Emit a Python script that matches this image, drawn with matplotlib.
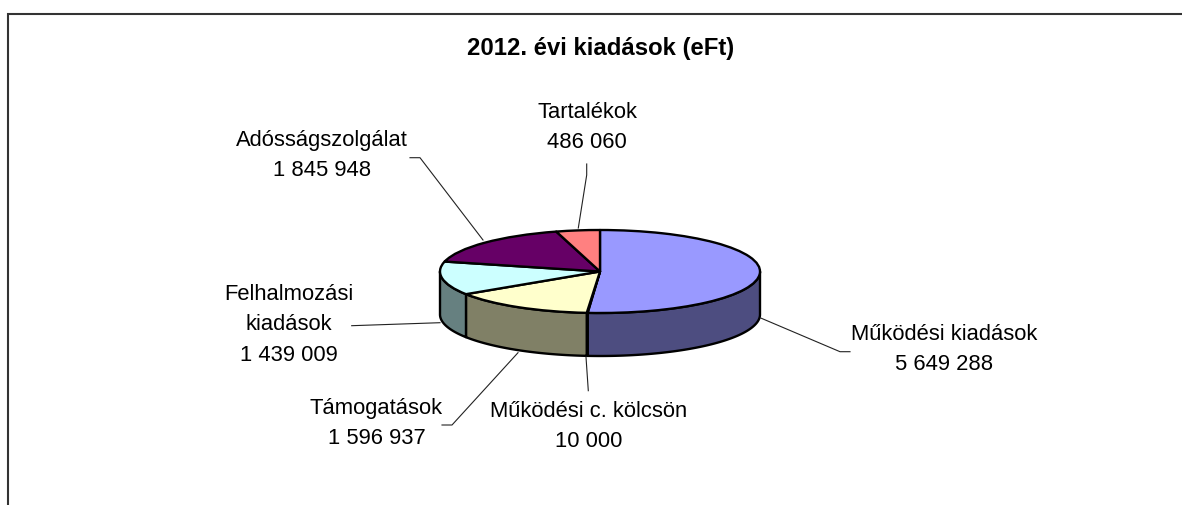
import numpy as np
import matplotlib
matplotlib.use("Agg")
import matplotlib.pyplot as plt

plt.rcParams['font.family'] = ['Liberation Sans', 'DejaVu Sans']

title = "2012. évi kiadások (eFt)"
categories = ["Működési kiadások", "Működési c. kölcsön", "Támogatások",
              "Felhalmozási\nkiadások", "Adósságszolgálat", "Tartalékok"]
values = [5649288, 10000, 1596937, 1439009, 1845948, 486060]
top_colors = ["#9999FF", "#993366", "#FFFFCC", "#CCFFFF", "#660066", "#FF8080"]
side_colors = ["#4D4D80", "#4D1A33", "#808066", "#668080", "#330033", "#804040"]

W, H = 1182, 505
CX, CY, RX, RY, DEPTH = 600, 271.5, 160, 41.5, 43

label_pos = [(944, 349.5), (589, 426.5), (376.5, 423.5), (289, 325), (322, 155.5), (587, 127.5)]
leaders = [
    [(850, 351.7), (840, 351.7), (760.7, 318)],
    [(588.3, 390.7), (586, 357)],
    [(442, 425), (452, 425), (518, 352.7)],
    [(351.7, 325.7), (440, 322.7)],
    [(410, 157.7), (420, 157.7), (483, 240)],
    [(586.7, 164), (586.7, 175), (578.3, 228)],
]

fig = plt.figure(figsize=(W / 100, H / 100), dpi=100, facecolor="white")

# Pie axes: one data unit = RX px horizontally and RY px vertically
ax = fig.add_axes([0, 0, 1, 1])
ax.pie(values, colors=top_colors, startangle=90, counterclock=False, radius=1,
       wedgeprops=dict(edgecolor="black", linewidth=1.7, joinstyle="round"))
ax.set_aspect("auto")
ax.set_xlim(-CX / RX, (W - CX) / RX)
ax.set_ylim(-(H - CY) / RY, CY / RY)
ax.axis("off")

# Rim: the front half of each slice, extruded downward
depth = DEPTH / RY
bounds = np.cumsum([0] + values) / sum(values) * 2 * np.pi
for i, color in enumerate(side_colors):
    t0, t1 = max(bounds[i], np.pi / 2), min(bounds[i + 1], 3 * np.pi / 2)
    if t1 <= t0:
        continue
    t = np.linspace(t0, t1, 120)
    x, y = np.sin(t), np.cos(t)
    ax.fill(np.r_[x, x[::-1]], np.r_[y, y[::-1] - depth], facecolor=color,
            edgecolor="black", linewidth=1.7, joinstyle="round", zorder=0)

# Overlay in pixel coordinates: frame, leaders, text
ov = fig.add_axes([0, 0, 1, 1], facecolor="none")
ov.set_xlim(0, W)
ov.set_ylim(H, 0)
ov.axis("off")

ov.plot([8, 8, W], [H, 14, 14], color="#333333", lw=1.5, solid_joinstyle="miter")
for pts in leaders:
    xs, ys = zip(*pts)
    ov.plot(xs, ys, color="#222222", lw=0.8, zorder=1)

ov.text(601, 48, title, ha="center", va="center", fontsize=17.2, fontweight="bold", color="black")
for name, val, (x, y) in zip(categories, values, label_pos):
    s = f"{val:,}".replace(",", " ")
    ov.text(x, y, f"{name}\n{s}", ha="center", va="center", multialignment="center",
            fontsize=15.8, linespacing=1.6, color="black")

fig.savefig("out.png", dpi=100, facecolor="white")
